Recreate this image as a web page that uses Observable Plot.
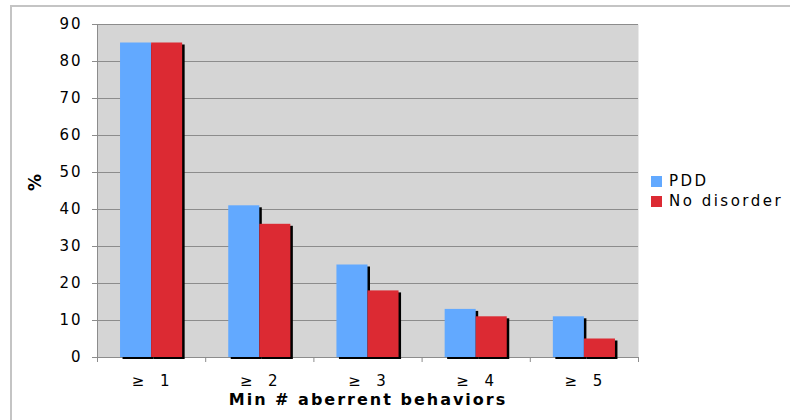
<!DOCTYPE html>
<html>
<head>
<meta charset="utf-8">
<script src="https://cdn.jsdelivr.net/npm/d3@7"></script>
<script src="https://cdn.jsdelivr.net/npm/@observablehq/plot@0.6"></script>
<style>
  html, body { margin: 0; padding: 0; background: #fff; }
  #wrap { position: relative; width: 790px; height: 420px; overflow: hidden; font-family: "DejaVu Sans", Verdana, sans-serif; }
  #border { position: absolute; left: 10px; top: 5px; width: 900px; height: 600px; border: 2px solid #c4c4c4; box-sizing: border-box; }
  #chart { position: absolute; left: 0; top: 0; }
  #legend { position: absolute; left: 651px; top: 171px; font-size: 15px; letter-spacing: 2.5px; color: #000; }
  #legend .item { display: flex; align-items: center; height: 20px; }
  #legend .sw { width: 11px; height: 11px; margin-right: 7px; }
  #chart svg text { letter-spacing: 2px; }
</style>
</head>
<body>
<div id="wrap">
  <div id="border"></div>
  <div id="chart"></div>
  <div id="legend"></div>
</div>
<script>
const categories = ["≥ 1", "≥ 2", "≥ 3", "≥ 4", "≥ 5"];
const pdd = [85, 41, 25, 13, 11];
const noDisorder = [85, 36, 18, 11, 5];
const seriesNames = ["PDD", "No disorder"];
const seriesColors = ["#62a9ff", "#dc2a33"];
const yTicks = [0, 10, 20, 30, 40, 50, 60, 70, 80, 90];
const xTitle = "Min # aberrent behaviors";
const yTitle = "%";

const barW = 0.287;
const data = categories.flatMap((c, i) => [
  {cat: c, series: seriesNames[0], value: pdd[i], x1: i + 1 - barW, x2: i + 1},
  {cat: c, series: seriesNames[1], value: noDisorder[i], x1: i + 1, x2: i + 1 + barW}
]);
const positions = categories.map((c, i) => i + 1);
const boundaries = [0.5, ...positions.map(p => p + 0.5)];

const axisColor = "#8c8c8c";
const chart = Plot.plot({
  width: 790,
  height: 420,
  marginLeft: 97,
  marginRight: 152,
  marginTop: 24,
  marginBottom: 63,
  style: {fontFamily: "DejaVu Sans, Verdana, sans-serif", fontSize: "15px", color: "#000", background: "transparent", overflow: "visible"},
  x: {domain: [0.5, 5.5], axis: null},
  y: {domain: [0, 90], axis: null},
  color: {domain: seriesNames, range: seriesColors},
  marks: [
    Plot.frame({fill: "#d5d5d5", stroke: null}),
    Plot.gridY(yTicks, {stroke: axisColor, strokeOpacity: 1}),
    Plot.ruleX([0.5], {stroke: axisColor}),
    Plot.ruleY([0], {stroke: axisColor}),
    Plot.axisY(yTicks, {tickSize: 5, tickPadding: 10, stroke: axisColor, label: null, fontSize: 15}),
    Plot.axisX(boundaries, {tickSize: 5, tickFormat: () => "", stroke: axisColor, label: null}),
    Plot.axisX(positions, {tickSize: 0, tickPadding: 18, tickFormat: p => categories[p - 1].replace(" ", "  "), label: null, fontSize: 15}),
    Plot.rectY(data, {x1: "x1", x2: "x2", y: "value", fill: "#000", dx: 2.5, dy: 2}),
    Plot.rectY(data, {x1: "x1", x2: "x2", y: "value", fill: "series"}),
    Plot.text([xTitle], {frameAnchor: "bottom", dy: 47, fontWeight: "bold", fontSize: 16}),
    Plot.text([yTitle], {frameAnchor: "left", dx: -62, rotate: -90, fontWeight: "bold", fontSize: 17})
  ]
});
document.getElementById("chart").appendChild(chart);
d3.select(chart).selectAll("text").style("white-space", "pre");

const legend = document.getElementById("legend");
seriesNames.forEach((s, i) => {
  const item = document.createElement("div");
  item.className = "item";
  const sw = document.createElement("span");
  sw.className = "sw";
  sw.style.background = seriesColors[i];
  const t = document.createElement("span");
  t.textContent = s;
  item.appendChild(sw);
  item.appendChild(t);
  legend.appendChild(item);
});
</script>
</body>
</html>
